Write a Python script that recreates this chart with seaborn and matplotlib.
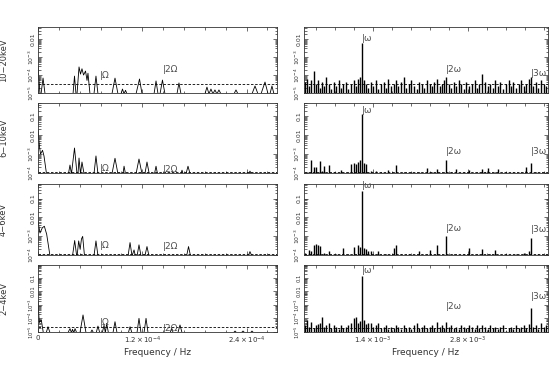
import numpy as np
import matplotlib
matplotlib.use("Agg")
import matplotlib.pyplot as plt
import matplotlib.ticker as mticker
import seaborn as sns

sns.set_style("ticks", {"xtick.direction": "in", "ytick.direction": "in"})
plt.rcParams["font.family"] = ["DejaVu Sans"]

# energy bands (rows, top to bottom)
bands = ["10\u221220keV", "6\u221210keV", "4\u22126keV", "2\u22124keV"]

# orbital (Omega) and spin (omega) frequencies
orb_freq = 7.17    # 1e-5 Hz
spin_freq = 1.242  # 1e-3 Hz

# --- low frequency periodograms: frequency (1e-5 Hz), log10 power ---
lf_10_20 = [0.0, 0.23, 0.35, 0.58, 0.81, 4.03, 4.2, 4.37, 4.49, 4.72, 4.89, 5.06, 5.24, 5.47, 5.64, 5.75, 5.98,
            6.44, 6.67, 6.9, 8.51, 8.86, 9.2, 9.55, 9.72, 9.9, 10.07, 10.24, 11.28, 11.68, 11.97,
            13.35, 13.58, 13.81, 14.04, 14.32, 14.61, 15.99, 16.22, 16.45,
            19.21, 19.44, 19.67, 19.9, 20.13, 20.36, 20.59, 20.82, 21.05, 22.55, 22.78, 23.01,
            24.62, 24.97, 25.31, 25.66, 26.12, 26.47, 26.69, 26.92, 27.15, 27.5]
lp_10_20 = [-3.5, -5.05, -5.05, -4.17, -5.05, -5.05, -4.06, -5.05, -5.05, -3.55, -3.95, -3.65, -4.0, -3.78, -4.3, -3.9, -5.05,
            -5.05, -4.06, -5.05, -5.05, -4.17, -5.05, -5.05, -4.78, -5.05, -4.85, -5.05, -5.05, -4.22, -5.05,
            -5.05, -4.33, -5.05, -5.05, -4.28, -5.05, -5.05, -4.44, -5.05,
            -5.05, -4.67, -5.05, -4.78, -5.05, -4.83, -5.05, -4.83, -5.05, -5.05, -4.83, -5.05,
            -5.05, -4.61, -5.05, -5.05, -4.39, -5.05, -5.05, -4.61, -5.05, -5.05]

lf_6_10 = [0.0, 0.17, 0.29, 0.52, 0.69, 0.98, 3.5, 3.68, 3.85, 4.2, 4.49, 4.6, 4.72, 4.89, 5.06, 5.3,
           6.44, 6.67, 6.9, 8.51, 8.86, 9.2, 9.78, 9.9, 10.07, 11.28, 11.62, 11.97,
           12.3, 12.54, 12.8, 13.4, 13.58, 13.75, 16.45, 16.57, 16.7, 17.03, 17.26, 17.5,
           24.25, 24.39, 24.55, 27.5]
lp_6_10 = [-1.7, -2.6, -3.0, -2.8, -3.1, -4.05, -4.05, -3.58, -4.05, -2.68, -4.05, -4.05, -3.21, -4.05, -3.42, -4.05,
           -4.05, -3.1, -4.05, -4.05, -3.22, -4.05, -4.05, -3.64, -4.05, -4.05, -3.26, -4.05,
           -4.05, -3.42, -4.05, -4.05, -3.64, -4.05, -4.05, -3.85, -4.05, -4.05, -3.64, -4.05,
           -4.05, -3.9, -4.05, -4.05]

lf_4_6 = [0.0, 0.23, 0.5, 0.73, 1.0, 1.38, 3.97, 4.22, 4.45, 4.5, 4.68, 4.85, 5.0, 5.14, 5.35,
          6.44, 6.67, 6.9, 10.36, 10.59, 10.82, 11.05, 11.2, 11.4, 11.62, 11.85,
          12.3, 12.54, 12.77, 17.1, 17.32, 17.55, 24.2, 24.39, 24.6, 27.5]
lp_4_6 = [-2.2, -2.83, -2.55, -2.47, -2.9, -4.05, -4.05, -3.23, -4.05, -4.05, -3.25, -3.7, -3.15, -3.01, -4.05,
          -4.05, -3.25, -4.05, -4.05, -3.34, -4.05, -3.73, -4.05, -4.05, -3.46, -4.05,
          -4.05, -3.55, -4.05, -4.05, -3.55, -4.05, -4.05, -3.82, -4.05, -4.05]

lf_2_4 = [0.0, 0.15, 0.38, 0.61, 0.95, 1.15, 1.38, 3.45, 3.68, 3.85, 3.97, 4.12, 4.26, 4.45,
          4.83, 5.18, 5.52, 6.05, 6.21, 6.38, 6.7, 6.9, 7.1, 7.4, 7.6, 7.75, 7.9, 8.1,
          8.63, 8.86, 9.09, 10.4, 10.59, 10.8, 11.39, 11.62, 11.85, 12.2, 12.43, 12.66,
          15.2, 15.38, 15.55, 16.1, 16.34, 16.57, 22.5, 22.67, 22.85, 23.4, 23.59, 23.78,
          24.45, 24.62, 24.8, 27.5]
lp_2_4 = [-2.75, -4.3, -4.11, -5.05, -5.05, -4.61, -5.05, -5.05, -4.75, -5.05, -4.8, -5.05, -4.75, -5.05,
          -5.05, -3.74, -5.05, -5.05, -4.85, -5.05, -5.05, -4.56, -5.05, -5.05, -4.5, -5.05, -4.36, -5.05,
          -5.05, -4.24, -5.05, -5.05, -4.61, -5.05, -5.05, -3.99, -5.05, -5.05, -3.99, -5.05,
          -5.05, -4.73, -5.05, -5.05, -4.48, -5.05, -5.05, -4.93, -5.05, -5.05, -4.93, -5.05,
          -5.05, -4.93, -5.05, -5.05]

# --- high frequency periodograms: frequency bins (1e-3 Hz), log10 power ---
hf_grid = [0.41, 0.44, 0.47, 0.50, 0.53, 0.56, 0.59, 0.62, 0.66, 0.69,
           0.72, 0.76, 0.79, 0.83, 0.86, 0.90, 0.93, 0.97, 1.01, 1.04,
           1.08, 1.12, 1.15, 1.18, 1.21, 1.242, 1.27, 1.30, 1.33, 1.37,
           1.41, 1.45, 1.48, 1.52, 1.56, 1.60, 1.63, 1.67, 1.71, 1.74,
           1.78, 1.82, 1.86, 1.89, 1.93, 1.97, 2.01, 2.05, 2.08, 2.12,
           2.16, 2.20, 2.24, 2.27, 2.31, 2.35, 2.39, 2.42, 2.45, 2.484,
           2.52, 2.55, 2.59, 2.63, 2.67, 2.70, 2.74, 2.78, 2.82, 2.86,
           2.90, 2.94, 2.97, 3.01, 3.05, 3.09, 3.13, 3.17, 3.20, 3.24,
           3.28, 3.32, 3.36, 3.40, 3.44, 3.47, 3.51, 3.55, 3.59, 3.63,
           3.66, 3.70, 3.726, 3.76, 3.80, 3.84, 3.88, 3.92, 3.95]

hp_10_20 = [-4.4, -4.2, -4.6, -4.3, -3.8, -4.5, -4.3, -4.7, -4.4, -4.6,
            -4.1, -4.5, -4.8, -4.4, -4.6, -4.3, -4.7, -4.5, -4.4, -4.8,
            -4.5, -4.3, -4.6, -4.2, -4.1, -2.24, -4.3, -4.5, -4.7, -4.4,
            -4.6, -4.3, -4.8, -4.5, -4.4, -4.7, -4.2, -4.6, -4.5, -4.3,
            -4.6, -4.4, -4.1, -4.7, -4.5, -4.3, -4.6, -4.8, -4.4, -4.5,
            -4.7, -4.3, -4.5, -4.6, -4.4, -4.2, -4.6, -4.5, -4.3, -4.1,
            -4.5, -4.7, -4.4, -4.6, -4.3, -4.5, -4.8, -4.4, -4.6, -4.5,
            -4.3, -4.7, -4.5, -3.94, -4.4, -4.6, -4.5, -4.7, -4.3, -4.6,
            -4.4, -4.8, -4.5, -4.3, -4.6, -4.4, -4.7, -4.5, -4.3, -4.6,
            -4.5, -4.2, -4.1, -4.6, -4.4, -4.7, -4.3, -4.5, -4.6]

hp_6_10 = [-4.1, -3.95, -4.1, -3.32, -3.7, -3.7, -4.1, -3.35, -3.9, -3.65,
           -4.1, -3.6, -4.1, -3.95, -4.1, -4.1, -3.85, -4.1, -4.1, -3.95,
           -3.55, -3.45, -3.5, -3.4, -3.3, -0.86, -3.45, -3.5, -4.1, -3.9,
           -4.1, -3.9, -4.1, -3.95, -4.1, -4.1, -3.85, -4.1, -3.95, -3.6,
           -4.1, -4.1, -3.95, -4.1, -4.1, -3.95, -4.1, -4.1, -3.95, -4.1,
           -4.1, -3.75, -4.1, -3.95, -4.1, -3.8, -4.1, -4.1, -3.95, -3.32,
           -4.1, -3.95, -4.1, -3.8, -4.1, -4.1, -3.95, -4.1, -3.85, -4.1,
           -4.1, -3.95, -4.1, -3.8, -3.95, -3.75, -4.1, -4.1, -3.95, -3.8,
           -4.1, -4.1, -3.95, -4.1, -4.1, -3.95, -4.1, -4.1, -3.95, -4.1,
           -3.7, -4.1, -3.46, -4.1, -3.95, -4.1, -4.1, -3.95, -4.1]

hp_4_6 = [-3.9, -4.1, -3.73, -3.8, -3.46, -3.41, -3.46, -3.5, -4.1, -3.9,
          -4.1, -3.78, -4.1, -4.1, -3.95, -4.1, -4.1, -3.64, -4.1, -3.95,
          -4.1, -3.55, -4.1, -3.46, -3.6, -0.58, -3.64, -3.7, -3.8, -3.78,
          -3.95, -4.1, -3.78, -4.1, -4.1, -3.95, -4.1, -4.1, -3.64, -3.46,
          -4.1, -3.95, -4.1, -4.1, -3.95, -4.1, -4.1, -4.1, -3.78, -4.1,
          -4.1, -3.95, -3.73, -4.1, -4.1, -3.46, -4.1, -4.1, -4.1, -2.97,
          -4.1, -4.1, -3.95, -4.1, -4.1, -4.1, -3.95, -4.1, -3.64, -4.1,
          -4.1, -3.95, -4.1, -3.67, -4.1, -4.1, -3.95, -4.1, -3.73, -4.1,
          -4.1, -4.1, -3.95, -4.1, -4.1, -4.1, -3.95, -4.1, -4.1, -3.88,
          -4.1, -3.78, -3.1, -4.1, -4.1, -3.95, -4.1, -4.1, -3.95]

hp_2_4 = [-4.5, -4.11, -4.6, -4.24, -4.7, -4.5, -4.4, -4.36, -3.86, -4.6,
          -4.5, -4.36, -4.7, -4.5, -4.6, -4.8, -4.5, -4.7, -4.6, -4.5,
          -4.3, -3.99, -3.86, -4.3, -4.2, -0.85, -4.11, -4.4, -4.3, -4.36,
          -4.6, -4.5, -4.36, -4.7, -4.6, -4.5, -4.8, -4.6, -4.7, -4.5,
          -4.6, -4.8, -4.5, -4.7, -4.6, -4.8, -4.5, -4.36, -4.7, -4.6,
          -4.5, -4.7, -4.6, -4.5, -4.7, -4.24, -4.6, -4.5, -4.7, -4.24,
          -4.6, -4.5, -4.7, -4.6, -4.8, -4.5, -4.6, -4.7, -4.48, -4.6,
          -4.8, -4.5, -4.7, -4.48, -4.6, -4.8, -4.5, -4.7, -4.6, -4.8,
          -4.6, -4.5, -4.9, -4.7, -4.6, -4.8, -4.5, -4.7, -4.6, -4.5,
          -4.7, -4.4, -3.25, -4.6, -4.5, -4.8, -4.36, -4.6, -4.5]

# significance levels (log10 power): left, right
sig_lo = [-4.5, -3.93, -3.96, -4.66]
sig_hi = [-4.52, -3.97, -3.97, -4.7]

low_f = [lf_10_20, lf_6_10, lf_4_6, lf_2_4]
low_p = [lp_10_20, lp_6_10, lp_4_6, lp_2_4]
high_p = [hp_10_20, hp_6_10, hp_4_6, hp_2_4]

ylims = [(1e-5, 0.047), (1e-4, 0.5), (1e-4, 0.6), (1e-5, 0.9)]

# label heights (log10) for harmonic markers: Omega, 2 Omega | omega, 2 omega, 3 omega
lab_lo = [(-4.0, -3.67), (-3.76, -3.79), (-3.51, -3.57), (-4.3, -4.74)]
lab_hi = [(-1.94, -3.67, -3.89), (-0.68, -2.84, -2.87), (-0.32, -2.59, -2.65), (-0.48, -3.11, -2.41)]

W, H = 550, 368
fig = plt.figure(figsize=(5.5, 3.68), dpi=100)
rows_px = [(27, 93), (103, 173), (184, 255), (265, 332)]
col_px = [(38, 277), (304, 548)]

def ytick_fmt(v, pos):
    table = {-5: r"$10^{-5}$", -4: r"$10^{-4}$", -3: r"$10^{-3}$", -2: "0.01", -1: "0.1"}
    e = int(round(np.log10(v)))
    return table.get(e, "")

grey = "0.3"
for r in range(4):
    top, bot = rows_px[r]
    fs_tick = 3.8 if r == 3 else 4.4
    axes = []
    for c in range(2):
        l, rr = col_px[c]
        ax = fig.add_axes([l / W, 1 - bot / H, (rr - l) / W, (bot - top) / H])
        axes.append(ax)
    axl, axr = axes

    # low frequency curve
    sns.lineplot(x=np.array(low_f[r]), y=10 ** np.array(low_p[r]), ax=axl,
                 color="k", lw=0.6, estimator=None, sort=False)
    # high frequency spikes
    axr.vlines(hf_grid, ylims[r][0], 10 ** np.array(high_p[r]), color="k", lw=1.0)

    axl.axhline(10 ** sig_lo[r], color="k", lw=0.6, ls=(0, (3, 2)))
    axr.axhline(10 ** sig_hi[r], color="k", lw=0.6, ls=(0, (3, 2)))

    axl.set_xlim(0, 27.5)
    axr.set_xlim(0.39, 3.98)
    axl.xaxis.set_major_locator(mticker.MultipleLocator(12))
    axl.xaxis.set_minor_locator(mticker.MultipleLocator(2.4))
    axr.xaxis.set_major_locator(mticker.FixedLocator([1.4, 2.8]))
    axr.xaxis.set_minor_locator(mticker.MultipleLocator(0.28))

    for ax in axes:
        ax.set_yscale("log")
        ax.set_ylim(*ylims[r])
        ax.yaxis.set_major_locator(mticker.LogLocator(base=10, numticks=10))
        ax.yaxis.set_minor_locator(mticker.LogLocator(base=10, subs=np.arange(2, 10), numticks=20))
        ax.yaxis.set_major_formatter(mticker.FuncFormatter(ytick_fmt))
        ax.yaxis.set_minor_formatter(mticker.NullFormatter())
        ax.tick_params(which="both", top=True, right=True, direction="in", width=0.5, colors="0.2")
        ax.tick_params(which="major", length=3)
        ax.tick_params(which="minor", length=1.8)
        ax.tick_params(axis="y", labelsize=fs_tick, pad=1.5, labelrotation=90)
        ax.tick_params(axis="x", labelsize=5, pad=2)
        for lab in ax.get_yticklabels():
            lab.set_va("center")
        for s in ax.spines.values():
            s.set_linewidth(0.6)
            s.set_color("0.2")
        ax.set_xlabel("")
        ax.set_ylabel("")

    if r < 3:
        axl.set_xticklabels([])
        axr.set_xticklabels([])
    else:
        axl.xaxis.set_major_formatter(mticker.FixedFormatter(
            ["0", r"$1.2\times10^{-4}$", r"$2.4\times10^{-4}$"]))
        axl.xaxis.set_major_locator(mticker.FixedLocator([0, 12, 24]))
        axr.xaxis.set_major_formatter(mticker.FixedFormatter(
            [r"$1.4\times10^{-3}$", r"$2.8\times10^{-3}$"]))
        for ax in axes:
            ax.set_xlabel("Frequency / Hz", fontsize=6.5, color="0.2")
            ax.xaxis.set_label_coords(0.5, -(352 - bot) / (bot - top) + 0.06)

    axl.set_ylabel(bands[r], fontsize=6, color="0.2")
    axl.yaxis.set_label_coords(-30 / 239, 0.5)

    # harmonic markers
    axl.text(orb_freq, 10 ** lab_lo[r][0], "|\u03a9", fontsize=6.5, color=grey, va="center", ha="left")
    axl.text(2 * orb_freq, 10 ** lab_lo[r][1], "|2\u03a9", fontsize=6.5, color=grey, va="center", ha="left")
    axr.text(spin_freq, 10 ** lab_hi[r][0], "|\u03c9", fontsize=6.5, color=grey, va="center", ha="left")
    axr.text(2 * spin_freq, 10 ** lab_hi[r][1], "|2\u03c9", fontsize=6.5, color=grey, va="center", ha="left")
    axr.text(3 * spin_freq, 10 ** lab_hi[r][2], "|3\u03c9", fontsize=6.5, color=grey, va="center", ha="left")

fig.savefig("out.png", dpi=100)
